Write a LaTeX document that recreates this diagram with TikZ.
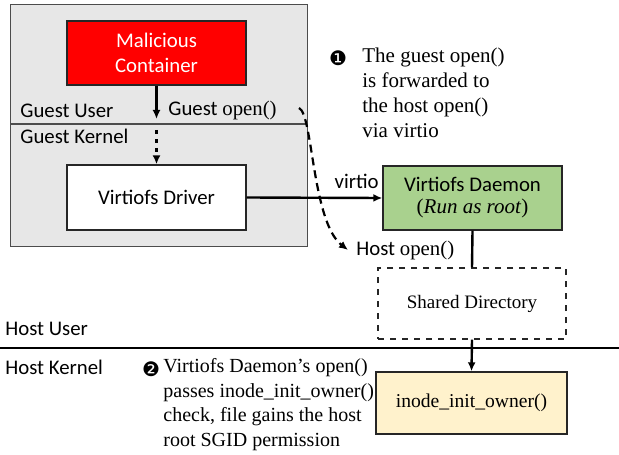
\documentclass[tikz,border=0pt]{standalone}
\usepackage{fontspec}
\setmainfont{Liberation Serif}
\setsansfont{Carlito}
\newfontfamily\dingfont{DejaVu Sans}
\usetikzlibrary{arrows.meta, positioning}

\definecolor{guestgray}{RGB}{231,231,231}
\definecolor{malred}{RGB}{255,0,0}
\definecolor{daemongreen}{RGB}{169,209,142}
\definecolor{inodeyellow}{RGB}{255,242,204}

\tikzset{
  box/.style={draw=black!85, line width=0.7pt, minimum width=89.5pt, minimum height=32pt, align=center, inner sep=0pt},
  lbl/.style={font=\sffamily\fontsize{10.4}{12.5}\selectfont, anchor=west, inner sep=0pt},
  note/.style={font=\fontsize{10.5}{12.5}\selectfont, align=left, anchor=north west, inner sep=0pt},
  conn/.style={line width=1.2pt, -{Latex[length=4.5pt,width=4pt]}},
  bullet/.style={font=\dingfont\fontsize{10}{12}\selectfont, inner sep=0pt},
}

\begin{document}
\begin{tikzpicture}[x=0.5pt, y=-0.5pt]
  \useasboundingbox (0,0) rectangle (619,454);
  % guest VM
  \node[draw=black!70, line width=0.7pt, fill=guestgray, minimum width=148.5pt, minimum height=121pt, anchor=north west, inner sep=0pt] (guest) at (10,4) {};
  \draw[black!70, line width=0.7pt] (10,124) -- (307,124);
  \node[lbl] (guestuser) at (20,111) {Guest User};
  \node[lbl] (guestkernel) at (20,136) {Guest Kernel};
  \node[box, fill=malred, text=white, font=\sffamily\fontsize{10.4}{12.5}\selectfont] (mal) at (156.5,53) {Malicious\\Container};
  \node[box, fill=white, font=\sffamily\fontsize{10.4}{12.5}\selectfont, minimum height=32.5pt] (drv) at (156.5,197.5) {Virtiofs Driver};
  \coordinate (gsplit) at (156.5,119);
  \coordinate (ksplit) at (156.5,130);
  \draw[conn] (mal.south) -- (gsplit);
  \draw[conn, dash pattern=on 2pt off 2.5pt] (ksplit) -- (drv.north);
  \node[lbl] (guestopen) at (168,110) {Guest {\rmfamily open()}};

  % host side
  \node[box, fill=daemongreen] (dmn) at (472.5,198) {{\sffamily\fontsize{10.4}{12.5}\selectfont Virtiofs Daemon}\\[-1pt]{\fontsize{10.5}{12.5}\selectfont(\textit{Run as root})}};
  \draw[conn] (drv.east) -- (dmn.west) node[lbl, pos=0.64, above=4pt, anchor=south west] (virtio) {virtio};
  \node[lbl] (hostopen) at (356,250) {Host {\rmfamily open()}};
  \coordinate (gcall) at (299,108);
  \draw[line width=1.1pt, dash pattern=on 4pt off 2.5pt, -{Latex[length=4.5pt,width=4pt]}] (gcall) .. controls (313,114) and (312,222) .. ([xshift=-4pt]hostopen.west);
  \node[box, dashed, fill=white, minimum width=94pt, minimum height=35.5pt, font=\fontsize{9.5}{12}\selectfont] (shared) at (472,303.5) {Shared Directory};
  \draw[line width=1.2pt] (dmn.south) -- (shared.north);
  \draw[line width=0.7pt] (0,348) -- (619,348);
  \node[lbl] (hostuser) at (5,329) {Host User};
  \node[lbl] (hostkernel) at (5,367) {Host Kernel};
  \node[box, fill=inodeyellow, minimum width=95.5pt, minimum height=31pt, font=\fontsize{9.8}{12}\selectfont] (inode) at (471.5,403) {inode\_init\_owner()};
  \draw[conn] (shared.south) -- (inode.north);

  % notes
  \node[bullet] (one) at (338,58) {❶};
  \node[note] (noteone) at (362,48) {The guest open()\\is forwarded to\\the host open()\\via virtio};
  \node[bullet] (two) at (151,369) {❷};
  \node[note, font=\fontsize{10}{12.3}\selectfont] (notetwo) at (163,358) {Virtiofs Daemon’s open()\\passes inode\_init\_owner()\\check, file gains the host\\root SGID permission};
\end{tikzpicture}
\end{document}
